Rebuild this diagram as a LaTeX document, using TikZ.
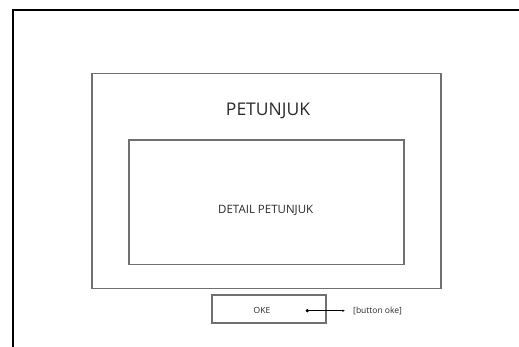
\documentclass[tikz,border=0pt]{standalone}
\usepackage{fontspec}
\setmainfont{Open Sans}
\usetikzlibrary{positioning,arrows.meta}
\definecolor{boxgray}{HTML}{707070}
\definecolor{txtgray}{HTML}{2A2A2A}
\tikzset{
	panel/.style={draw=boxgray, line width=1.4pt, rectangle, inner sep=0pt},
	label/.style={text=txtgray, inner sep=0pt},
	link/.style={{Circle[length=3.2pt]}-{Latex[length=2.6pt,width=2.4pt]}, line width=0.8pt, black}
}
\begin{document}
\begin{tikzpicture}[x=1pt, y=-1pt]
				\useasboundingbox (0,0) rectangle (519,347);
				\clip (0,0) rectangle (519,347);
				
				% frame of the screen
				\draw[line width=2pt, black] (12.5,10.5) rectangle (540,370);
				
				\node[panel, minimum width=349pt, minimum height=215pt] (menu) at (266.5,181) {};
				\node[label, font=\fontsize{17.5}{20}\selectfont] (judul) at (268,110.7) {PETUNJUK};
				
				\node[panel, minimum width=275pt, minimum height=124.7pt] (detail) at (266.5,202.3) {};
				\node[label, font=\fontsize{11.5}{13}\selectfont] (isi) at (265.7,210) {DETAIL PETUNJUK};
				
				\node[panel, minimum width=114pt, minimum height=28pt] (oke) at (269,309) {};
				\node[label, font=\fontsize{8.5}{10}\selectfont] (okeisi) at (262,310.7) {OKE};
				
				\coordinate (okedot) at (305.7,310.7);
				\node[label, font=\fontsize{8.5}{10}\selectfont, anchor=west] (ket) at (353,310.7) {[button oke]};
				
				\draw[link] (okedot) -- ([xshift=-8pt]ket.west);
				
			\end{tikzpicture}
\end{document}
